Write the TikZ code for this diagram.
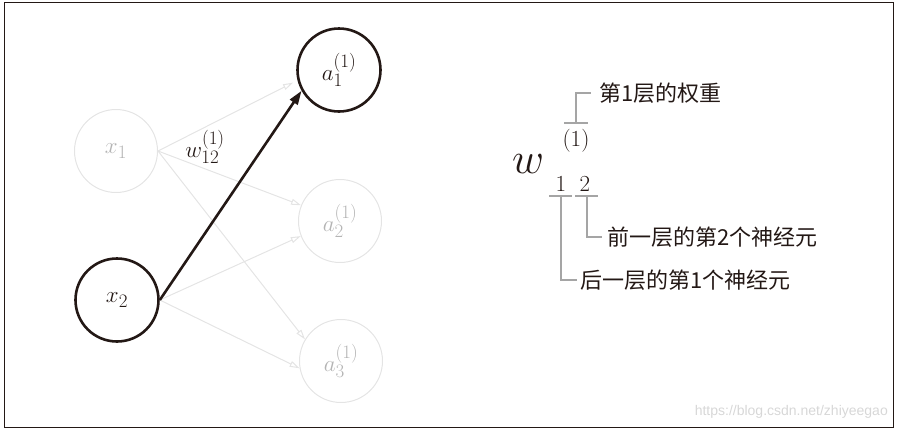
\RequirePackage{fix-cm}
\documentclass[tikz,border=0pt]{standalone}
\usepackage{fontspec}
\newfontfamily\cjk{Noto Sans CJK SC}
\newfontfamily\wmfont{Liberation Sans}
\usetikzlibrary{arrows.meta}
\DeclareMathSizes{23}{23}{19}{14}
\definecolor{dark}{RGB}{35,24,21}
\definecolor{faint}{RGB}{228,228,228}
\definecolor{faintText}{RGB}{180,180,180}
\definecolor{bracket}{RGB}{165,165,165}
\definecolor{wmcol}{RGB}{215,215,215}
\begin{document}
\begin{tikzpicture}[x=1pt,y=-1pt,
  neuron/.style={circle, minimum size=83pt, inner sep=0pt, font=\fontsize{23}{26}\selectfont},
  active/.style={neuron, draw=dark, line width=2.6pt, text=dark},
  idle/.style={neuron, draw=faint, line width=1pt, text=faintText},
  faintarrow/.style={draw=faint, line width=1pt, -{Triangle[open, length=10pt, width=6pt]}},
  mainarrow/.style={draw=dark, line width=2.6pt, -{Triangle[length=14pt, width=9pt]}},
  brk/.style={draw=bracket, line width=1.2pt},
  cjklabel/.style={font=\cjk\fontsize{22}{25}\selectfont, text=dark, anchor=west, inner sep=0pt},
  digit/.style={font=\fontsize{23}{26}\selectfont, text=dark, anchor=base, inner sep=0pt},
]
\path[use as bounding box] (0,0) rectangle (898,432);
\draw[dark, line width=1.4pt] (4.5,2.5) rectangle (893.5,427.5);

% neurons
\node[idle] (x1) at (116,151) {$x_1$};
\node[active] (x2) at (117,300) {$x_2$};
\node[active] (a1) at (339,70) {$a_1^{(1)}$};
\node[idle] (a2) at (340,221) {$a_2^{(1)}$};
\node[idle] (a3) at (341,361) {$a_3^{(1)}$};

% faint connections
\draw[faintarrow, shorten >=5pt] (x1.east) -- (a1.194);
\draw[faintarrow] (x1.east) -- (a2.158);
\draw[faintarrow] (x1.east) -- (a3.149);
\draw[faintarrow] (x2.east) -- (a2.201);
\draw[faintarrow] (x2.east) -- (a3.190);

% highlighted connection
\draw[mainarrow] (x2.east) -- (a1.209);
\node[font=\fontsize{23}{26}\selectfont, text=dark, inner sep=0pt] (w12) at (205,147) {$w_{12}^{(1)}$};

% notation explanation
\node[font=\fontsize{44}{48}\selectfont, anchor=base, inner sep=0pt, text=dark] (w) at (528,173) {$w$};
\node[digit] (sup) at (576,146) {$(1)$};
\node[digit] (s1) at (561,191) {$1$};
\node[digit] (s2) at (585,191) {$2$};

\node[cjklabel] (l1) at (599,93) {第1层的权重};
\node[cjklabel] (l2) at (607,237) {前一层的第2个神经元};
\node[cjklabel] (l3) at (580,280) {后一层的第1个神经元};

\coordinate (t1) at (576,123);
\coordinate (b1) at (561,196);
\coordinate (b2) at (587,196);
\draw[brk] (564,123) -- (588,123);
\draw[brk] (549,196) -- (572,196);
\draw[brk] (575,196) -- (598,196);
\draw[brk] (t1) |- ([xshift=-8pt]l1.west);
\draw[brk] (b2) |- ([xshift=-5pt]l2.west);
\draw[brk] (b1) |- ([xshift=-3pt]l3.west);

% watermark
\node[font=\wmfont\fontsize{14}{16}\selectfont, text=wmcol, anchor=east, inner sep=0pt] (wm) at (888,412) {https://blog.csdn.net/zhiyeegao};
\end{tikzpicture}
\end{document}
